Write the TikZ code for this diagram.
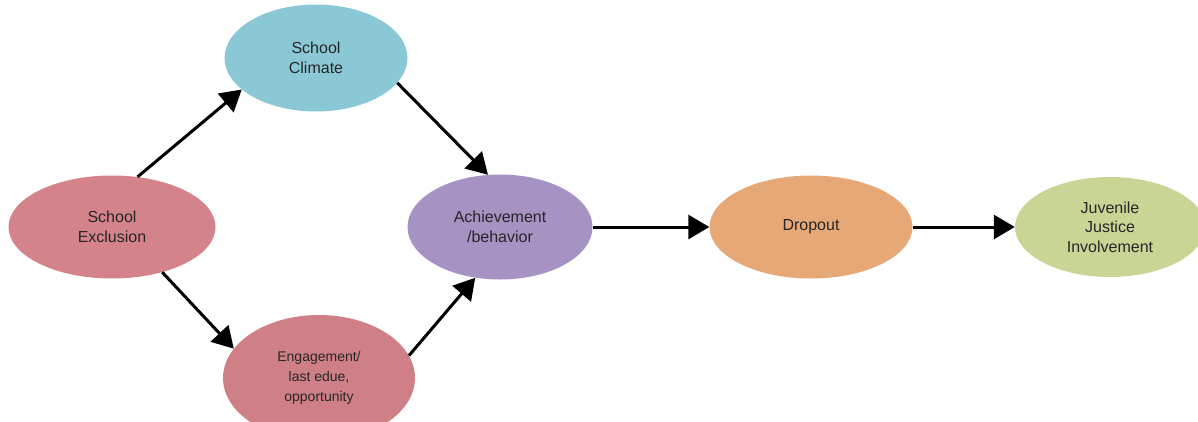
\documentclass[tikz,border=0pt]{standalone}
\usepackage{fontspec}
\setmainfont{Liberation Sans}
\usetikzlibrary{shapes.geometric}
\usetikzlibrary{arrows.meta}
\definecolor{exclcol}{HTML}{D4838B}
\definecolor{climcol}{HTML}{8BC8D5}
\definecolor{engcol}{HTML}{CF8086}
\definecolor{achcol}{HTML}{A792C4}
\definecolor{dropcol}{HTML}{E6A877}
\definecolor{juvcol}{HTML}{C9D594}
\tikzset{>={Triangle[length=21pt,width=24pt]}}
\tikzset{blob/.style={ellipse, inner sep=0pt, align=center, text=black!85, font=\fontsize{16}{19.5}\selectfont}}
\tikzset{lnk/.style={->, line width=3pt}}

\begin{document}
\begin{tikzpicture}[x=1pt, y=-1pt]
\useasboundingbox (0,0) rectangle (1198,421);
\clip (0,0) rectangle (1198,421);

\node[blob, fill=exclcol, minimum width=207pt, minimum height=103pt] (excl) at (112, 227) {School\\Exclusion};
\node[blob, fill=climcol, minimum width=183pt, minimum height=107pt] (clim) at (316, 58) {School\\Climate};
\node[blob, fill=engcol, minimum width=192pt, minimum height=126pt,
      font=\fontsize{14}{20}\selectfont] (eng) at (319, 378) {Engagement/\\last edue,\\opportunity};
\node[blob, fill=achcol, minimum width=185pt, minimum height=105pt] (ach) at (500, 227) {Achievement\\/behavior};
\node[blob, fill=dropcol, minimum width=203pt, minimum height=103pt] (drop) at (811, 227) {Dropout};
\node[blob, fill=juvcol, minimum width=190pt, minimum height=100pt] (juv) at (1110, 227) {Juvenile\\Justice\\Involvement};

% upper and lower path
\draw[lnk] (excl.63) -- (clim.203);
\draw[lnk] (clim.343) -- (ach.103);
\draw[lnk] (excl.318) -- (eng.161);
\draw[lnk] (eng.14) -- (ach.244);

% main chain
\draw[lnk] (ach.east) -- (drop.west);
\draw[lnk] (drop.east) -- (juv.west);

\end{tikzpicture}
\end{document}
